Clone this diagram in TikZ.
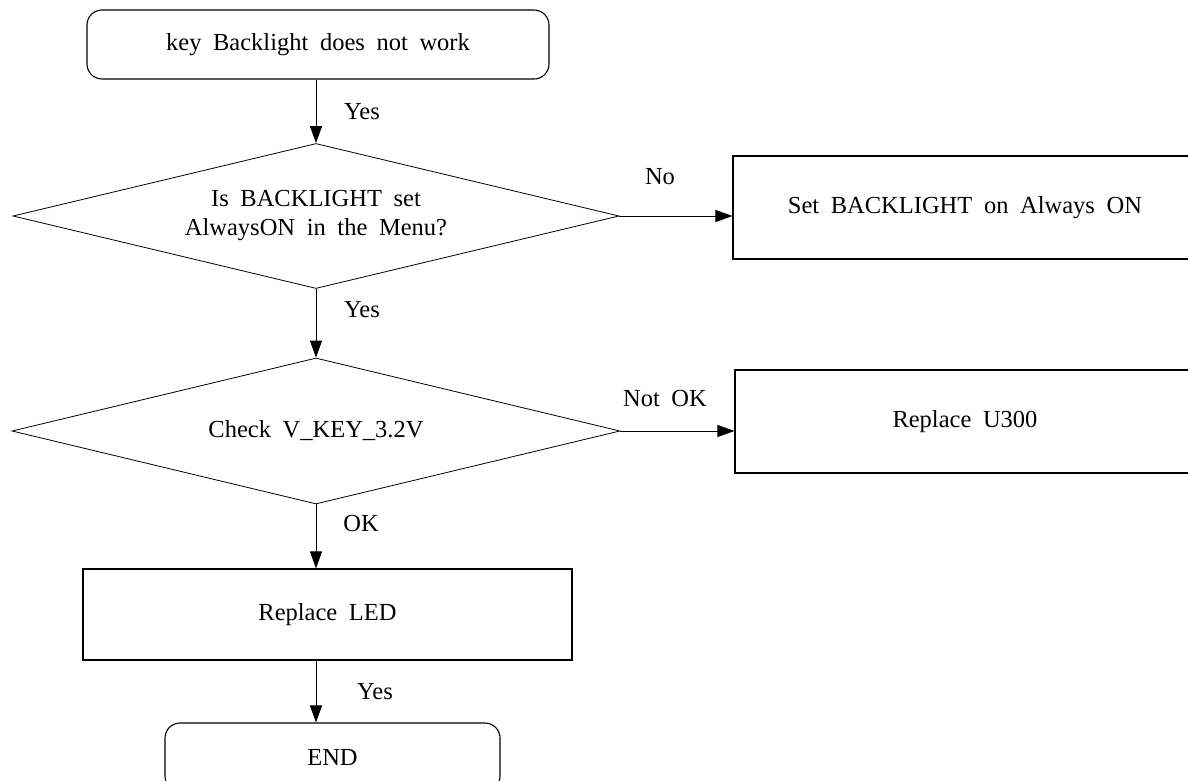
\documentclass[tikz,border=0pt]{standalone}
\usepackage{fontspec}
\setmainfont{Liberation Serif}[WordSpace=1.9]
\usetikzlibrary{shapes.geometric,arrows.meta}
\tikzset{
  base/.style={draw=black, line width=1.1pt, inner sep=0pt, align=center},
  term/.style={base, rounded corners=15pt},
  procbox/.style={base, rectangle},
  dec/.style={draw=black, line width=0.8pt, diamond, aspect=4.18, inner sep=0pt, align=center},
  arr/.style={draw=black, line width=1pt, -{Triangle[length=17pt,width=12pt]}},
  lbl/.style={inner sep=0pt}
}
\begin{document}
\begin{tikzpicture}[x=1pt,y=-1pt,font=\fontsize{24.5}{29}\selectfont]
\useasboundingbox (0,0) rectangle (1188,781);
\clip (0,0) rectangle (1188,781);
\node[term, minimum width=462pt, minimum height=69pt] (start) at (318,44.5) {key Backlight does not work};
\node[dec, minimum width=606pt, minimum height=145pt] (d1) at (316,216) {Is BACKLIGHT set\\AlwaysON in the Menu?};
\node[procbox, minimum width=464pt, minimum height=103pt] (b1) at (965,207.5) {Set BACKLIGHT on Always ON};
\node[dec, minimum width=608pt, minimum height=146pt] (d2) at (316,431) {Check V\_KEY\_3.2V};
\node[procbox, minimum width=460pt, minimum height=103pt] (b2) at (965,421.5) {Replace U300};
\node[procbox, minimum width=489pt, minimum height=91pt] (led) at (327.5,614.5) {Replace LED};
\node[term, minimum width=335pt, minimum height=68pt] (end) at (332.5,757) {END};

\draw[arr] (start.south -| d1.north) -- (d1.north);
\draw[arr] (d1.south) -- (d2.north);
\draw[arr] (d1.east) -- (d1.east -| b1.west);
\draw[arr] (d2.east) -- (d2.east -| b2.west);
\draw[arr] (d2.south) -- (d2.south |- led.north);
\draw[arr] (d2.south |- led.south) -- (d2.south |- end.north);

\node[lbl] (l1) at (362,112) {Yes};
\node[lbl] (l2) at (660,177) {No};
\node[lbl] (l3) at (362,310) {Yes};
\node[lbl] (l4) at (665,399) {Not OK};
\node[lbl] (l5) at (361,524) {OK};
\node[lbl] (l6) at (375,692) {Yes};
\end{tikzpicture}
\end{document}
